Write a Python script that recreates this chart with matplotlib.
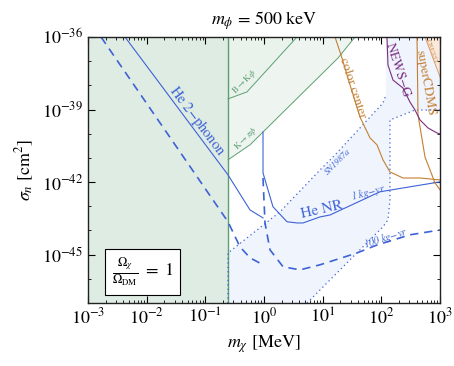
import numpy as np
import matplotlib
matplotlib.use("Agg")
import matplotlib.pyplot as plt

plt.rcParams['font.family'] = ['STIXGeneral', 'DejaVu Serif']
plt.rcParams['mathtext.fontset'] = 'stix'

# all curves as (log10 m_chi [MeV], log10 sigma_n [cm^2])
phonon_lx = [-2.369, -0.614, -0.239, -0.017]
phonon_ly = [-36.0, -41.70, -43.15, -43.48]

phonon100_lx = [-2.778, -0.614, -0.409, -0.239, -0.017]
phonon100_ly = [-36.0, -43.64, -44.68, -45.13, -45.42]

nr_lx = [-0.017, -0.017, 0.153, 0.392, 0.562, 0.665, 0.954, 1.125, 1.977, 3.0]
nr_ly = [-39.93, -41.62, -43.02, -43.64, -43.69, -43.69, -43.44, -43.36, -42.40, -41.99]

nr100_lx = [-0.017, 0.017, 0.102, 0.324, 0.613, 0.954, 1.585, 1.926, 2.488, 3.0]
nr100_ly = [-41.83, -43.69, -44.80, -45.50, -45.63, -45.42, -44.93, -44.60, -44.18, -43.98]

k_lx = [-0.614, -0.239, 1.261, 1.551]
k_ly = [-41.08, -40.46, -36.87, -36.0]

b_lx = [-0.614, -0.29, 0.562]
b_ly = [-38.56, -38.27, -36.0]

meson_lx = -0.614

sn_lx = [-0.614, -0.614, 0.273, 0.954, 1.210, 2.028, 2.079, 2.079, 3.0, 3.0, 2.574,
         2.147, 2.147, 2.113, 2.028, 1.636, 0.733]
sn_ly = [-47.0, -44.93, -43.23, -41.50, -40.88, -38.73, -38.40, -36.0, -36.0, -39.02, -39.02,
         -39.43, -42.74, -43.56, -43.85, -44.80, -47.0]

cc_lx = [1.210, 1.312, 1.466, 1.636, 1.806, 1.926, 2.028, 2.147, 2.369, 2.659, 3.0]
cc_ly = [-36.0, -36.74, -37.98, -39.31, -40.17, -40.46, -41.08, -41.58, -41.83, -41.83, -41.91]

cdms_lx = [2.608, 2.625, 2.659, 2.744, 2.914, 3.0]
cdms_ly = [-36.0, -39.22, -39.72, -40.96, -42.03, -42.32]

newsg_lx = [2.096, 2.113, 2.199, 2.369, 2.488, 2.574, 2.659, 2.795, 2.949, 3.0]
newsg_ly = [-36.0, -37.16, -37.78, -38.11, -38.69, -39.02, -39.43, -39.76, -39.97, -40.01]

cresst_lx = [2.744, 3.0]
cresst_ly = [-36.0, -37.65]


def p(lx, ly):
    return 10.0 ** np.array(lx), 10.0 ** np.array(ly)


blue = '#3d62d6'
green = '#5c9f72'
orange = '#c47f32'
purple = '#7a2e80'

fig = plt.figure(figsize=(4.54, 3.66), dpi=100)
ax = fig.add_axes([0.1938, 0.1721, 0.9692 - 0.1938, 0.8989 - 0.1721])
ax.set_xscale('log')
ax.set_yscale('log')
ax.set_xlim(1e-3, 1e3)
ax.set_ylim(1e-47, 1e-36)

# shaded regions
ax.axvspan(1e-3, 10 ** meson_lx, color='#dfece3', lw=0, zorder=0)
x, y = p(k_lx + [3.0, 3.0, meson_lx], k_ly + [-36.0, -36.0, -36.0])
ax.fill(x, y, color='#eef5f0', lw=0, zorder=0)
x, y = p(b_lx + [meson_lx], b_ly + [-36.0])
ax.fill(x, y, color='#e9f2eb', lw=0, zorder=0)
x, y = p(sn_lx, sn_ly)
ax.fill(x, y, color='#eff4fd', lw=0, zorder=0)
x, y = p(cresst_lx + [3.0], cresst_ly + [-36.0])
ax.fill(x, y, color='#fbeadb', lw=0, zorder=0)

# meson bounds
ax.axvline(10 ** meson_lx, color=green, lw=1.0, zorder=2)
ax.plot(*p(k_lx, k_ly), color=green, lw=0.7)
ax.plot(*p(b_lx, b_ly), color=green, lw=0.7)

# SN1987a dotted outline
ax.plot(*p(sn_lx[:7], sn_ly[:7]), color=blue, lw=0.9, ls=(0, (1, 2.5)))
ax.plot(*p(sn_lx[9:], sn_ly[9:]), color=blue, lw=0.9, ls=(0, (1, 2.5)))

# helium curves
ax.plot(*p(phonon_lx, phonon_ly), color=blue, lw=0.8)
ax.plot(*p(phonon100_lx, phonon100_ly), color=blue, lw=1.2, ls=(0, (5, 3.5)))
ax.plot(*p(nr_lx, nr_ly), color=blue, lw=0.8)
ax.plot(*p(nr100_lx, nr100_ly), color=blue, lw=1.2, ls=(0, (5, 3.5)))

# other experiments
ax.plot(*p(cc_lx, cc_ly), color=orange, lw=0.8)
ax.plot(*p(cdms_lx, cdms_ly), color=orange, lw=0.8)
ax.plot(*p(cresst_lx, cresst_ly), color='#d9a070', lw=0.7)
ax.plot(*p(newsg_lx, newsg_ly), color=purple, lw=0.8)

# labels
ax.text(0.0721, 10 ** -39.47, 'He 2$-$phonon', color=blue, fontsize=10.5, rotation=-53,
        ha='center', va='center')
ax.text(0.474, 10 ** -37.86, r'B$\to$K$\phi$', color=green, fontsize=6.5, rotation=45,
        ha='center', va='center')
ax.text(0.493, 10 ** -40.21, r'K$\to\pi\phi$', color=green, fontsize=6.5, rotation=45,
        ha='center', va='center')
ax.text(31.6, 10 ** -38.11, 'color center', color=orange, fontsize=9.5, rotation=-72,
        ha='center', va='center')
ax.text(192, 10 ** -37.36, 'NEWS$-$G', color=purple, fontsize=9.5, rotation=-72,
        ha='center', va='center')
ax.text(555, 10 ** -37.9, 'superCDMS', color=orange, fontsize=9.5, rotation=-80,
        ha='center', va='center')
ax.text(730, 10 ** -36.62, 'CRESST', color='#d49a68', fontsize=5, rotation=-70,
        ha='center', va='center')
ax.text(18.2, 10 ** -41.17, 'SN1987a', color=blue, fontsize=6.5, rotation=45,
        ha='center', va='center', style='italic')
ax.text(9.73, 10 ** -43.15, 'He NR', color=blue, fontsize=11, rotation=13,
        ha='center', va='center')
ax.text(59.2, 10 ** -42.45, '1 kg$-$yr', color=blue, fontsize=7.5, rotation=15,
        ha='center', va='center', style='italic')
ax.text(120, 10 ** -44.31, '100 kg$-$yr', color=blue, fontsize=7.5, rotation=18,
        ha='center', va='center', style='italic')
ax.text(0.0085, 10 ** -45.71, r'$\frac{\Omega_\chi}{\Omega_{\rm DM}}\ =\ 1$', fontsize=13,
        ha='center', va='center',
        bbox=dict(boxstyle='square,pad=0.35', fc='white', ec='black', lw=0.8))

# axes styling
ax.set_yticks([1e-36, 1e-39, 1e-42, 1e-45])
ax.set_yticklabels([r'$10^{-36}$', r'$10^{-39}$', r'$10^{-42}$', r'$10^{-45}$'])
ax.set_yticks([10.0 ** k for k in range(-47, -35)], minor=True)
ax.set_yticklabels([], minor=True)
ax.set_xticks([10.0 ** k for k in range(-3, 4)])
ax.tick_params(which='both', direction='in', top=True, right=True, labelsize=13)
ax.tick_params(which='major', length=5, width=0.8)
ax.tick_params(which='minor', length=2.5, width=0.6)
for s in ax.spines.values():
    s.set_linewidth(1.0)
    s.set_color('#222222')

ax.set_xlabel(r'$m_\chi$ [MeV]', fontsize=13)
ax.set_ylabel(r'$\sigma_n$ [cm$^2$]', fontsize=13)
ax.set_title(r'$m_\phi$ = 500 keV', fontsize=13, pad=9)

fig.savefig('out.png', dpi=100)
